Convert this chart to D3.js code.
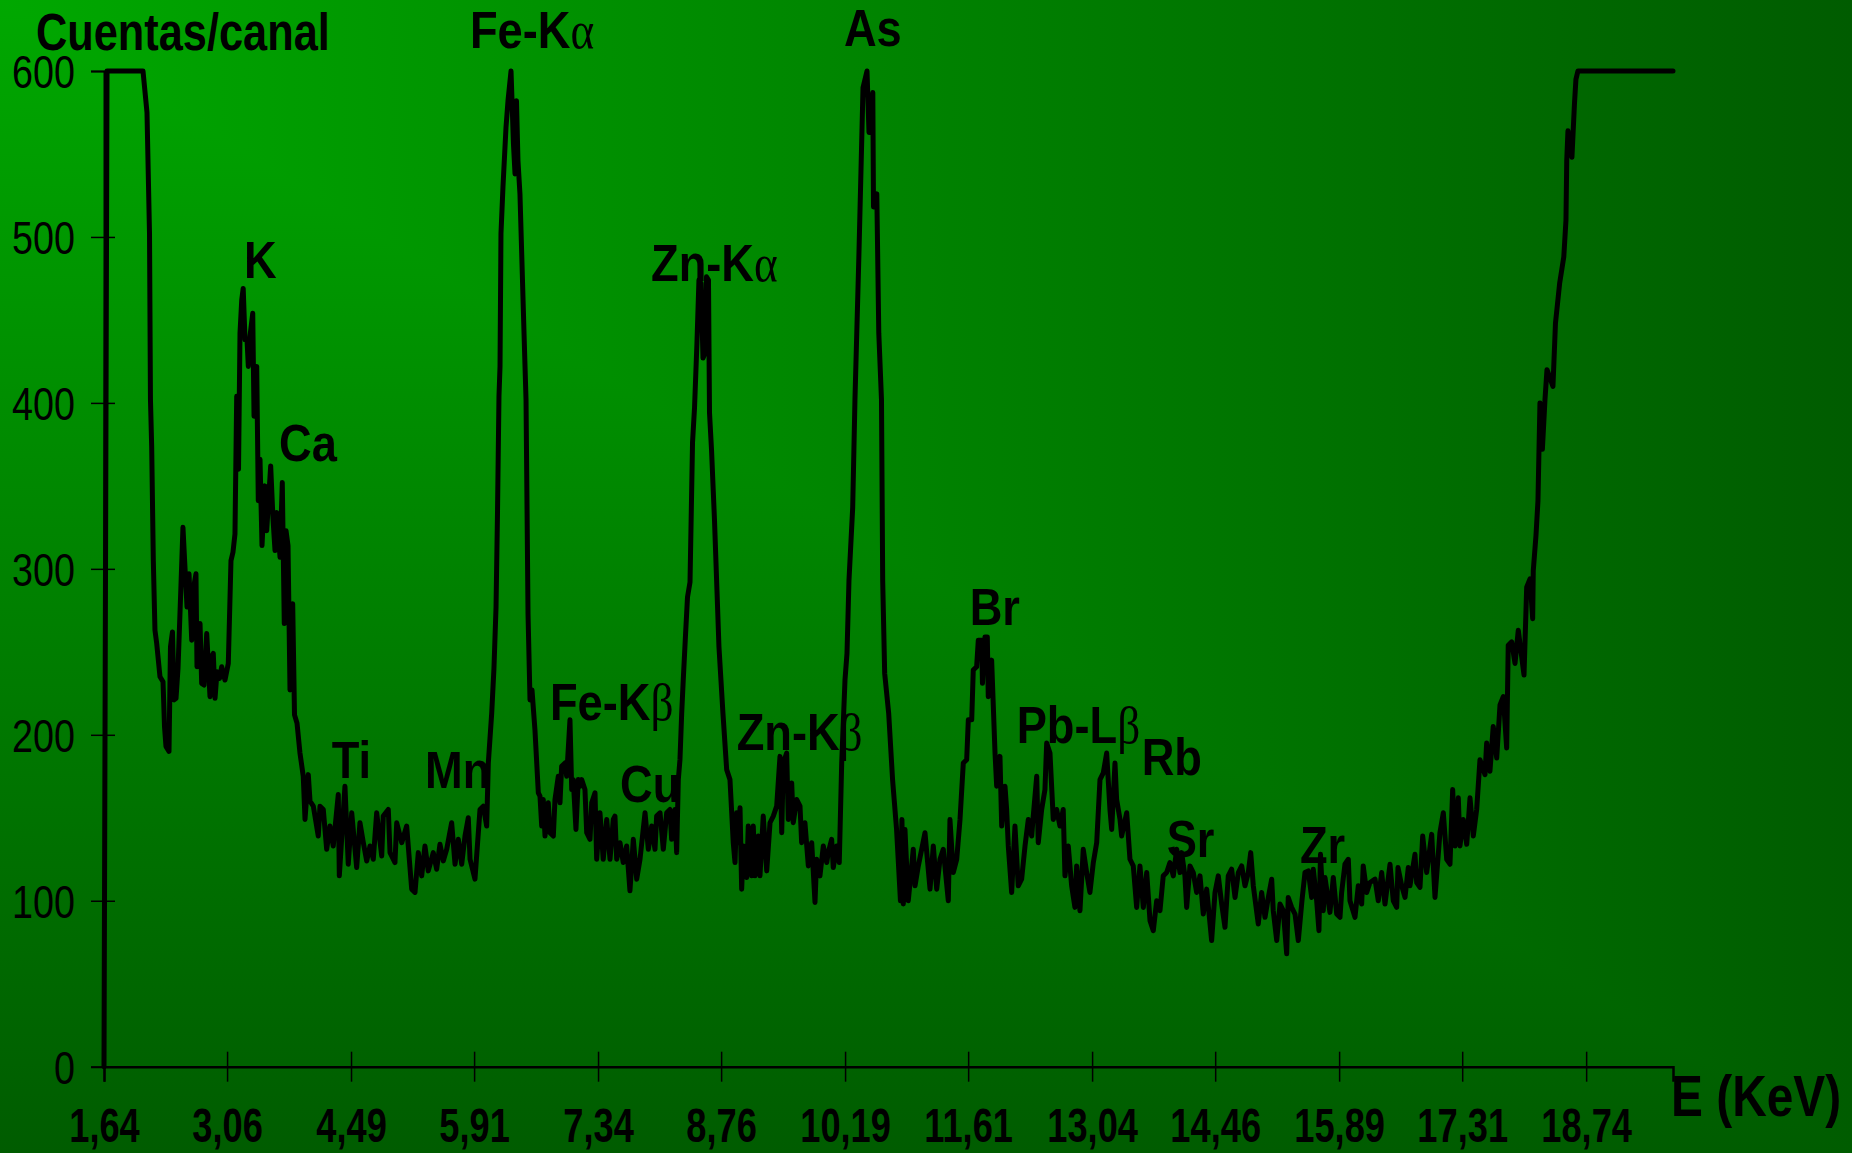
<!DOCTYPE html>
<html><head><meta charset="utf-8">
<script src="https://cdn.jsdelivr.net/npm/d3@7"></script>
<style>
html,body{margin:0;padding:0;}
body{width:1852px;height:1153px;overflow:hidden;
background:linear-gradient(to right,#00a800,#005c00),linear-gradient(to bottom,#00a800,#005c00);
background-blend-mode:darken;}
svg{display:block;}
text{font-family:"Liberation Sans",Arial,sans-serif;fill:#000;}
</style></head><body>
<svg id="chart" width="1852" height="1153"></svg>
<script>
// Energy (keV) of each channel
const energy = [
1.640,1.675,2.090,2.136,2.165,2.176,2.190,2.209,2.228,2.248,2.286,2.321,2.338,2.355,2.390,2.407,2.430,2.448,2.471,2.494,
2.528,2.551,2.575,2.598,2.621,2.652,2.678,2.701,2.713,2.748,2.767,2.794,2.825,2.863,2.880,2.901,2.921,2.944,2.973,2.998,
3.036,3.074,3.105,3.128,3.151,3.171,3.192,3.209,3.229,3.246,3.267,3.290,3.305,3.324,3.356,3.371,3.402,3.420,3.440,3.463,
3.497,3.517,3.563,3.590,3.613,3.632,3.671,3.697,3.720,3.740,3.763,3.786,3.817,3.838,3.867,3.901,3.939,3.959,3.997,4.017,
4.055,4.112,4.132,4.170,4.209,4.247,4.285,4.343,4.355,4.420,4.458,4.498,4.555,4.593,4.632,4.671,4.709,4.747,4.786,4.844,
4.862,4.920,4.940,4.997,5.017,5.075,5.132,5.190,5.228,5.266,5.305,5.343,5.381,5.439,5.478,5.516,5.555,5.594,5.651,5.690,
5.728,5.767,5.805,5.843,5.863,5.920,5.978,6.016,6.055,6.074,6.113,6.139,6.163,6.180,6.197,6.209,6.220,6.243,6.278,6.301,
6.336,6.364,6.382,6.399,6.416,6.439,6.486,6.509,6.532,6.555,6.578,6.612,6.651,6.670,6.690,6.708,6.728,6.766,6.785,6.824,
6.843,6.881,6.901,6.920,6.959,6.978,7.016,7.036,7.054,7.085,7.112,7.132,7.151,7.189,7.209,7.247,7.267,7.305,7.324,7.362,
7.400,7.440,7.478,7.516,7.535,7.555,7.593,7.631,7.670,7.708,7.747,7.786,7.824,7.882,7.920,7.959,7.997,8.016,8.055,8.093,
8.132,8.170,8.189,8.228,8.247,8.266,8.285,8.305,8.323,8.349,8.372,8.401,8.430,8.453,8.481,8.504,8.528,8.551,8.574,8.591,
8.614,8.626,8.649,8.683,8.712,8.735,8.758,8.781,8.824,8.862,8.882,8.900,8.920,8.939,8.958,8.978,8.997,9.016,9.055,9.073,
9.112,9.131,9.151,9.189,9.208,9.246,9.286,9.324,9.362,9.401,9.439,9.459,9.477,9.516,9.535,9.574,9.592,9.632,9.670,9.689,
9.727,9.766,9.805,9.843,9.862,9.900,9.939,9.978,9.996,10.035,10.054,10.093,10.123,10.151,10.189,10.212,10.235,10.278,10.304,10.350,
10.397,10.443,10.466,10.510,10.518,10.556,10.579,10.610,10.624,10.647,10.693,10.738,10.784,10.829,10.846,10.862,10.881,10.919,10.977,10.997,
11.035,11.112,11.170,11.208,11.247,11.285,11.323,11.381,11.400,11.438,11.478,11.516,11.554,11.593,11.612,11.651,11.669,11.708,11.727,11.766,
11.775,11.804,11.831,11.842,11.881,11.920,11.939,11.977,11.997,12.035,12.054,12.073,12.112,12.150,12.188,12.227,12.266,12.304,12.343,12.361,
12.401,12.419,12.458,12.496,12.516,12.554,12.592,12.631,12.669,12.707,12.727,12.765,12.804,12.842,12.862,12.900,12.938,12.977,13.015,13.054,
13.093,13.131,13.169,13.208,13.246,13.266,13.304,13.323,13.362,13.381,13.439,13.477,13.515,13.554,13.592,13.631,13.670,13.708,13.746,13.785,
13.823,13.861,13.900,13.938,13.977,14.016,14.054,14.073,14.111,14.131,14.169,14.207,14.246,14.285,14.323,14.362,14.419,14.458,14.496,14.535,
14.573,14.611,14.650,14.689,14.727,14.766,14.804,14.842,14.870,14.900,14.957,14.996,15.035,15.073,15.112,15.130,15.170,15.208,15.246,15.285,
15.303,15.342,15.381,15.419,15.461,15.496,15.534,15.573,15.592,15.631,15.657,15.675,15.707,15.727,15.784,15.823,15.862,15.900,15.919,15.957,
15.996,16.015,16.073,16.111,16.150,16.168,16.208,16.246,16.304,16.342,16.381,16.419,16.477,16.515,16.554,16.569,16.612,16.650,16.688,16.707,
16.765,16.785,16.823,16.854,16.900,16.958,16.996,17.053,17.092,17.131,17.169,17.200,17.227,17.265,17.284,17.322,17.362,17.400,17.438,17.477,
17.515,17.573,17.592,17.630,17.668,17.708,17.746,17.784,17.823,17.841,17.881,17.919,17.957,18.023,18.054,18.092,18.123,18.130,18.161,18.184,
18.207,18.235,18.265,18.288,18.357,18.386,18.434,18.482,18.507,18.516,18.530,18.576,18.605,18.622,18.645,19.742
];
// Counts per channel
const counts = [
0,600,600,575,502,402,374,305,263,255,235,232,205,193,190,253,262,221,222,240,
290,325,300,277,297,257,290,297,241,267,231,230,261,223,247,249,222,238,234,241,
233,243,305,310,321,404,360,442,462,469,438,438,422,440,454,392,422,341,366,314,
350,323,362,330,311,334,307,352,267,323,314,227,279,212,207,189,175,149,176,160,
157,139,157,155,131,145,133,164,115,169,122,153,120,147,135,124,133,125,153,127,
151,155,129,123,147,135,145,107,105,129,115,133,118,129,119,134,124,131,147,122,
137,122,139,150,125,113,155,157,145,183,213,240,277,334,404,422,502,530,566,582,
600,556,538,582,546,526,442,402,273,221,227,203,165,163,145,161,139,159,141,139,
161,175,159,181,183,175,209,167,173,143,173,169,173,167,141,137,159,165,125,153,
125,149,125,149,151,125,135,123,133,106,137,113,125,153,131,145,131,151,153,131,
153,155,137,155,129,173,185,213,233,260,283,292,376,397,436,474,472,427,430,476,
474,394,372,330,287,253,233,213,179,173,153,135,123,153,135,156,107,133,114,145,
115,145,115,139,115,151,118,147,151,157,187,141,183,189,149,171,147,161,157,135,
147,121,135,99,125,115,133,123,129,137,120,133,123,183,233,249,293,337,402,490,
590,600,563,587,518,526,442,402,293,237,213,173,143,100,149,98,143,100,131,109,
121,141,107,133,107,125,131,100,149,117,125,149,183,185,209,209,239,241,257,257,
231,259,259,223,245,189,169,187,145,169,155,133,105,145,109,113,133,149,139,151,
175,135,155,167,195,189,149,155,145,155,115,133,109,96,121,94,131,117,105,123,
135,173,177,189,155,143,183,161,149,139,153,125,121,96,121,96,117,88,82,100,
94,115,117,123,115,131,117,129,115,96,121,117,105,115,92,107,76,105,115,98,
84,115,119,102,117,121,109,117,129,109,86,105,90,102,113,94,76,98,94,68,
102,96,92,76,100,117,118,102,119,100,82,128,94,114,93,114,92,90,105,122,
125,100,90,109,98,121,105,111,113,100,117,98,122,100,96,120,109,102,120,109,
128,111,108,139,117,140,102,141,153,125,122,167,133,162,133,149,134,162,139,155,
185,176,195,178,205,186,218,223,192,254,256,243,263,236,289,294,270,299,320,341,
400,372,402,420,410,448,472,488,510,546,564,548,580,595,600,600
];
const xTickValues = [1.64,3.06,4.49,5.91,7.34,8.76,10.19,11.61,13.04,14.46,15.89,17.31,18.74];
const yTickValues = [0,100,200,300,400,500,600];
// Peak annotations: label, greek suffix, energy (left edge), count (baseline)
const peakNames  = ["K","Ca","Ti","Mn","Fe-K","Fe-K","Cu","Zn-K","Zn-K","As","Br","Pb-L","Rb","Sr","Zr"];
const peakGreek  = ["","","","","α","β","","α","β","","","β","","",""];
const peakEnergy = [3.255,3.659,4.267,5.343,5.862,6.785,7.593,7.951,8.939,10.177,11.627,12.170,13.612,13.900,15.438];
const peakCount  = [475.3,364.7,173.8,167.8,613.6,208.9,159.7,473.2,190.8,614.8,266.2,195.1,175.8,126.4,122.7];

const spectrum = energy.map((e,i)=>({e, c: counts[i]}));
const svg = d3.select("#chart");
const x = d3.scaleLinear().domain([1.64, 19.742]).range([104, 1673]);
const y = d3.scaleLinear().domain([0, 600]).range([1066.7, 71]);
const loc = d3.formatLocale({decimal:",", thousands:".", grouping:[3], currency:["",""]});
const fmt = loc.format(".2f");

// X axis
const xg = svg.append("g").attr("transform",`translate(0,${y(0)})`)
  .call(d3.axisBottom(x).tickValues(xTickValues).tickSizeOuter(0).tickSize(15).tickFormat(d=>fmt(d)));
xg.select(".domain").attr("stroke","#000").attr("stroke-width",2.5);
xg.selectAll(".tick line").attr("y1",-15).attr("y2",15).attr("stroke","#000").attr("stroke-width",1.5);
xg.selectAll(".tick text").attr("y",75).attr("dy",0)
  .attr("font-size",49).attr("font-weight","bold").attr("fill","#000")
  .attr("font-family","Liberation Sans, Arial, sans-serif")
  .attr("transform","scale(0.74,1)");

// Y axis
const yg = svg.append("g").attr("transform",`translate(${x(1.64)},0)`)
  .call(d3.axisLeft(y).tickValues(yTickValues).tickSizeOuter(0).tickSize(13).tickFormat(d3.format("d")));
yg.select(".domain").attr("stroke","#000").attr("stroke-width",2);
yg.selectAll(".tick line").attr("x1",-13).attr("x2",11).attr("stroke","#000").attr("stroke-width",1.5);
yg.selectAll(".tick text").attr("x",-35.4).attr("dy","0.36em")
  .attr("font-size",46).attr("fill","#000")
  .attr("font-family","Liberation Sans, Arial, sans-serif")
  .attr("transform","scale(0.82,1)");

// Axis titles
svg.append("text").attr("transform","translate(36,49.5) scale(0.85,1)")
  .attr("font-size",51).attr("font-weight","bold").text("Cuentas/canal");
svg.append("text").attr("transform","translate(1671,1116) scale(0.84,1)")
  .attr("font-size",57).attr("font-weight","bold").text("E (KeV)");

// Peak labels (under the line)
const lab = svg.append("g").selectAll("text").data(peakNames).join("text")
  .attr("transform",(d,i)=>`translate(${x(peakEnergy[i])},${y(peakCount[i])}) scale(0.87,1)`)
  .attr("font-size",52).attr("font-weight","bold");
lab.append("tspan").text(d=>d);
lab.append("tspan").attr("font-family","Liberation Serif, DejaVu Serif, serif")
  .attr("font-weight","normal").text((d,i)=>peakGreek[i]);

// Spectrum line
svg.append("path").datum(spectrum)
  .attr("fill","none").attr("stroke","#000").attr("stroke-width",5)
  .attr("stroke-linejoin","round").attr("stroke-linecap","round")
  .attr("d", d3.line().x(d=>x(d.e)).y(d=>y(d.c)));
</script>
</body></html>
